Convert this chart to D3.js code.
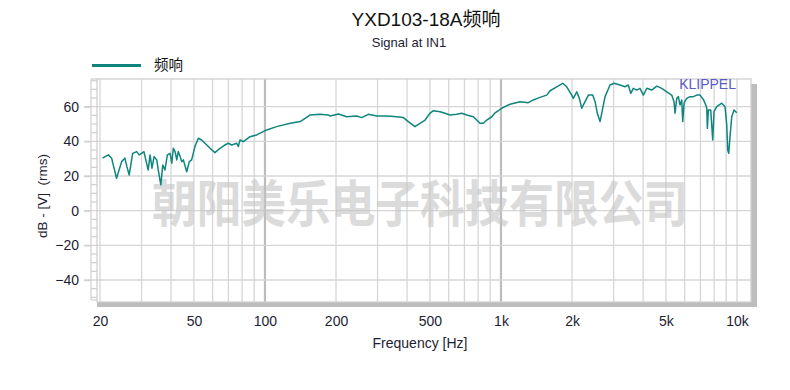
<!DOCTYPE html>
<html>
<head>
<meta charset="utf-8">
<script src="https://cdn.jsdelivr.net/npm/d3@7"></script>
<style>
  html, body { margin: 0; padding: 0; background: #fff; }
  svg { display: block; }
</style>
</head>
<body>
<svg id="chart" width="790" height="390"></svg>
<script>
// Frequency response of YXD103-18A (Klippel style plot)

const freqHz = [
    20.5, 21.7, 22.4, 23.5, 24.7, 25.5, 26.0, 26.6, 27.5, 28.6,
    29.3, 30.0, 30.7, 31.5, 32.0, 32.6, 33.2, 33.9, 34.8, 35.3,
    36.2, 36.9, 37.7, 38.6, 39.6, 40.3, 40.9, 41.6, 42.3, 42.9,
    43.7, 44.4, 45.1, 46.6, 47.8, 48.9, 50.5, 52.2, 53.9, 55.7,
    58.5, 61.4, 64.5, 67.7, 69.9, 72.3, 75.9, 77.1, 78.4, 81.0,
    86.4, 92.3, 101.7, 112, 128, 141, 148, 155, 171, 186,
    189, 205, 222, 245, 257, 274, 298, 328, 362, 386,
    405, 432, 454, 477, 500, 517, 552, 579, 608, 649,
    682, 716, 764, 789, 815, 842, 870, 914, 944, 1007,
    1092, 1204, 1306, 1371, 1463, 1562, 1614, 1723, 1826, 1899,
    1994, 2025, 2094, 2148, 2199, 2271, 2346, 2448, 2504, 2560,
    2628, 2672, 2760, 2898, 3013, 3194, 3354, 3464, 3546, 3636,
    3760, 3882, 4010, 4146, 4354, 4570, 4798, 5038, 5290, 5410,
    5463, 5554, 5642, 5736, 5832, 5890, 5966, 6124, 6325, 6532,
    6752, 6973, 7202, 7373, 7445, 7489, 7563, 7738, 7891, 7992,
    8206, 8617, 8898, 9047, 9134, 9225, 9342, 9500, 9716, 9975
];
const levelDb = [
    30.3, 32.2, 30.3, 18.7, 28.3, 30.3, 25.4, 20.6, 33.1, 34.1,
    32.2, 33.1, 34.1, 27.4, 23.5, 32.2, 24.5, 31.2, 29.3, 23.5,
    14.9, 26.4, 23.5, 32.2, 33.1, 27.4, 36.0, 34.1, 29.3, 34.1,
    31.2, 28.3, 29.3, 22.5, 28.3, 29.3, 37.0, 41.8, 40.8, 38.9,
    36.0, 33.5, 36.0, 37.9, 38.9, 37.9, 38.9, 37.0, 40.8, 39.8,
    42.7, 43.7, 46.6, 48.5, 50.4, 51.4, 53.3, 55.2, 55.6, 55.2,
    54.6, 55.8, 54.2, 54.6, 53.7, 55.6, 54.6, 54.6, 54.2, 53.7,
    51.4, 48.5, 50.4, 52.3, 56.2, 57.7, 57.1, 56.2, 55.2, 55.6,
    56.2, 55.2, 54.2, 52.3, 50.4, 50.4, 52.3, 54.2, 56.5, 59.1,
    61.4, 62.9, 62.3, 63.9, 65.4, 66.7, 69.2, 71.5, 73.5, 71.5,
    66.7, 64.8, 68.6, 64.8, 59.1, 62.9, 66.7, 66.7, 62.9, 56.2,
    51.4, 56.2, 65.8, 72.5, 73.5, 72.5, 71.5, 72.5, 67.7, 70.6,
    69.6, 70.6, 66.7, 70.6, 69.6, 71.9, 70.6, 68.6, 66.7, 62.9,
    56.2, 64.8, 65.8, 61.0, 63.9, 51.4, 62.0, 64.8, 65.8, 65.8,
    66.7, 66.7, 64.2, 61.0, 59.1, 47.5, 58.1, 58.1, 40.8, 57.1,
    60.0, 62.0, 60.0, 49.5, 35.0, 33.1, 42.7, 54.2, 58.1, 56.5
];

// axes
const xTickValues = [20, 50, 100, 200, 500, 1000, 2000, 5000, 10000];
const xTickLabels = ['20', '50', '100', '200', '500', '1k', '2k', '5k', '10k'];
const gridFreqs = [20, 30, 40, 50, 60, 70, 80, 90, 100, 200, 300, 400, 500, 600, 700, 800, 900,
                   1000, 2000, 3000, 4000, 5000, 6000, 7000, 8000, 9000, 10000];
const decadeFreqs = [100, 1000];
const yTickValues = [60, 40, 20, 0, -20, -40];
const yMinorValues = [75, 70, 65, 55, 50, 45, 35, 30, 25, 15, 10, 5, -5, -10, -15, -25, -30, -35, -45, -50];

const titleText = 'YXD103-18A频响';
const subtitleText = 'Signal at IN1';
const legendText = '频响';
const watermarkText = '朝阳美乐电子科技有限公司';

const LATIN = '"Liberation Sans", Arial, sans-serif';
const CJK = '"Liberation Sans", "Noto Sans CJK SC", sans-serif';
const CURVE = '#0f857e';

const svg = d3.select('#chart');

// plot frame
const frame = { left: 97, right: 751, top: 79, bottom: 302 };

const x = d3.scaleLog().domain([20, 10000]).range([100, 737]);
const y = d3.scaleLinear().domain([-40, 60]).range([280, 106.7]);

// shadow on right and bottom
svg.append('rect')
    .attr('x', frame.left).attr('y', frame.bottom)
    .attr('width', frame.right - frame.left + 6).attr('height', 5)
    .attr('fill', '#bdbdbd');
svg.append('rect')
    .attr('x', frame.right).attr('y', frame.top + 5)
    .attr('width', 6).attr('height', frame.bottom - frame.top)
    .attr('fill', '#bdbdbd');

svg.append('rect')
    .attr('x', frame.left).attr('y', frame.top)
    .attr('width', frame.right - frame.left).attr('height', frame.bottom - frame.top)
    .attr('fill', '#fff');

// left strip with minor ticks
svg.append('g')
    .selectAll('line')
    .data(yMinorValues)
    .enter()
    .append('line')
    .attr('x1', 91).attr('x2', frame.left)
    .attr('y1', d => y(d)).attr('y2', d => y(d))
    .attr('stroke', '#cfcfcf')
    .attr('stroke-width', 1.2);
svg.append('line')
    .attr('x1', 91).attr('x2', 91)
    .attr('y1', frame.top).attr('y2', frame.bottom - 2)
    .attr('stroke', '#cfcfcf').attr('stroke-width', 1.2);
svg.append('line')
    .attr('x1', 91).attr('x2', frame.left)
    .attr('y1', frame.bottom - 2).attr('y2', frame.bottom - 2)
    .attr('stroke', '#cfcfcf').attr('stroke-width', 1.2);

// grid
svg.append('g')
    .selectAll('line')
    .data(gridFreqs)
    .enter()
    .append('line')
    .attr('x1', d => x(d)).attr('x2', d => x(d))
    .attr('y1', frame.top).attr('y2', frame.bottom)
    .attr('stroke', d => decadeFreqs.includes(d) ? '#bcbcbc' : '#d6d6d6')
    .attr('stroke-width', d => decadeFreqs.includes(d) ? 2.2 : 1.3);

svg.append('g')
    .selectAll('line')
    .data(yTickValues)
    .enter()
    .append('line')
    .attr('x1', 84).attr('x2', frame.right)
    .attr('y1', d => y(d)).attr('y2', d => y(d))
    .attr('stroke', '#d6d6d6')
    .attr('stroke-width', 1.3);

// frame border
svg.append('rect')
    .attr('x', frame.left).attr('y', frame.top)
    .attr('width', frame.right - frame.left).attr('height', frame.bottom - frame.top)
    .attr('fill', 'none')
    .attr('stroke', '#cfcfcf')
    .attr('stroke-width', 1.3);
svg.append('line')
    .attr('x1', 91).attr('x2', frame.left)
    .attr('y1', frame.top).attr('y2', frame.top)
    .attr('stroke', '#cfcfcf').attr('stroke-width', 1.3);

// watermark
svg.append('text')
    .attr('x', 152)
    .attr('y', 200)
    .attr('dominant-baseline', 'central')
    .attr('textLength', 536)
    .attr('lengthAdjust', 'spacingAndGlyphs')
    .attr('font-family', '"Noto Sans CJK SC", sans-serif')
    .attr('font-size', '50px')
    .attr('font-weight', 'bold')
    .attr('fill', '#c4c4c4')
    .attr('opacity', 0.6)
    .text(watermarkText);

// curve
svg.append('clipPath').attr('id', 'plotClip')
    .append('rect')
    .attr('x', frame.left).attr('y', frame.top)
    .attr('width', frame.right - frame.left).attr('height', frame.bottom - frame.top);

const points = freqHz.map((f, i) => [f, levelDb[i]]);
const line = d3.line()
    .x(d => x(d[0]))
    .y(d => y(d[1]));

svg.append('path')
    .datum(points)
    .attr('clip-path', 'url(#plotClip)')
    .attr('d', line)
    .attr('fill', 'none')
    .attr('stroke', CURVE)
    .attr('stroke-width', 1.5)
    .attr('stroke-linejoin', 'round');

// KLIPPEL mark
svg.append('text')
    .attr('x', 736)
    .attr('y', 89)
    .attr('text-anchor', 'end')
    .attr('font-family', LATIN)
    .attr('font-size', '14px')
    .attr('fill', '#5b5bc4')
    .text('KLIPPEL');

// x axis
const xAxis = svg.append('g')
    .attr('transform', `translate(0, ${frame.bottom})`)
    .call(d3.axisBottom(x)
        .tickValues(xTickValues)
        .tickFormat((d, i) => xTickLabels[i])
        .tickSize(0)
        .tickPadding(14));
xAxis.select('.domain').remove();
xAxis.selectAll('text')
    .attr('font-family', LATIN)
    .attr('font-size', '14px')
    .attr('fill', '#1d1d33');

// y axis
const yAxis = svg.append('g')
    .attr('transform', 'translate(91, 0)')
    .call(d3.axisLeft(y)
        .tickValues(yTickValues)
        .tickSize(7)
        .tickPadding(5));
yAxis.select('.domain').remove();
yAxis.selectAll('line').attr('stroke', '#cfcfcf').attr('stroke-width', 1.3);
yAxis.selectAll('text')
    .attr('font-family', LATIN)
    .attr('font-size', '14px')
    .attr('fill', '#1d1d33');

// axis titles
svg.append('text')
    .attr('x', 420)
    .attr('y', 348)
    .attr('text-anchor', 'middle')
    .attr('font-family', LATIN)
    .attr('font-size', '14px')
    .attr('fill', '#1d1d33')
    .text('Frequency [Hz]');

svg.append('text')
    .attr('transform', 'translate(47, 196) rotate(-90)')
    .attr('text-anchor', 'middle')
    .attr('font-family', LATIN)
    .attr('font-size', '13.5px')
    .attr('fill', '#1d1d33')
    .style('white-space', 'pre')
    .text('dB - [V]  (rms)');

// title and subtitle
svg.append('text')
    .attr('x', 426)
    .attr('y', 26)
    .attr('text-anchor', 'middle')
    .attr('font-family', CJK)
    .attr('font-size', '19px')
    .attr('fill', '#111')
    .text(titleText);

svg.append('text')
    .attr('x', 409)
    .attr('y', 47)
    .attr('text-anchor', 'middle')
    .attr('font-family', LATIN)
    .attr('font-size', '13px')
    .attr('fill', '#1d1d33')
    .text(subtitleText);

// legend
svg.append('line')
    .attr('x1', 92).attr('x2', 141)
    .attr('y1', 65.5).attr('y2', 65.5)
    .attr('stroke', CURVE)
    .attr('stroke-width', 3);
svg.append('text')
    .attr('x', 154)
    .attr('y', 70)
    .attr('font-family', '"Noto Sans CJK SC", sans-serif')
    .attr('font-size', '14.5px')
    .attr('fill', '#111')
    .text(legendText);
</script>
</body>
</html>
